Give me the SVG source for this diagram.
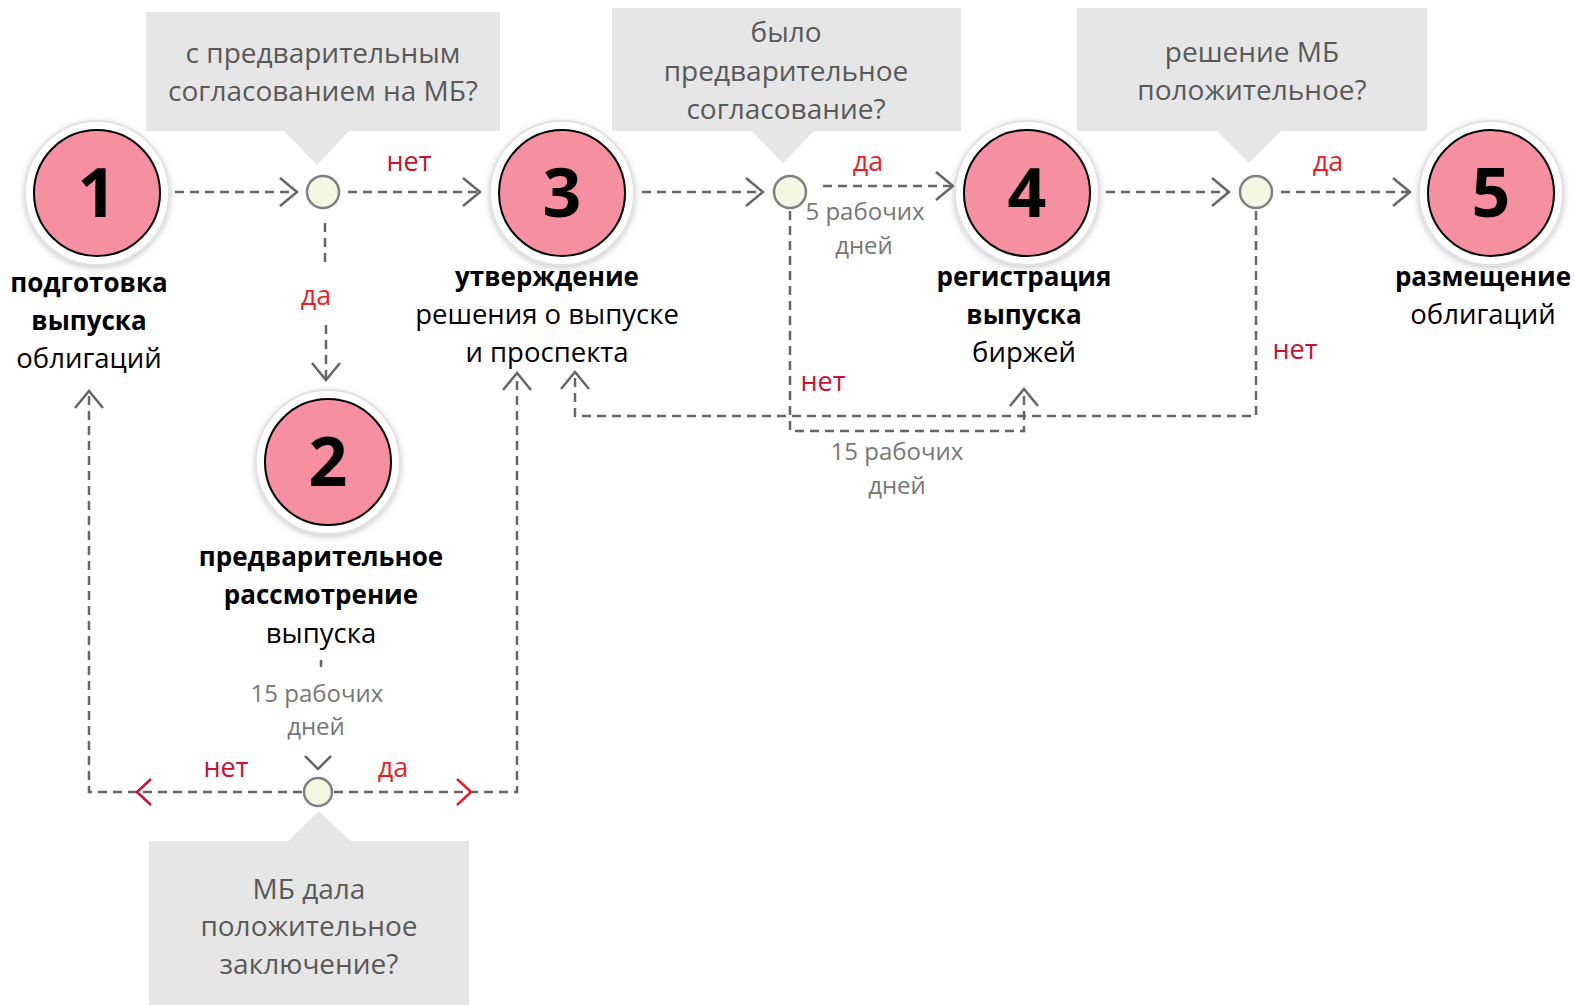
<svg xmlns="http://www.w3.org/2000/svg" width="1575" height="1005" viewBox="0 0 1575 1005">
<style>
text{font-family:"Open Sans","Liberation Sans",sans-serif;text-anchor:middle}
.box{fill:#e6e6e6}
.bt{font-size:28px;fill:#595959}
.num{font-size:68px;font-weight:bold;fill:#000}
.lb{font-size:26px;font-weight:bold;fill:#000}
.lr{font-size:27.5px;fill:#000}
.gr{font-size:24px;fill:#777}
.no{font-size:27px;fill:#cc1133}
.yes{font-size:27px;fill:#ee1c25}
.halo{fill:#fff;stroke:#e2e2e2;stroke-width:2}
.pink{fill:#f68fa0;stroke:#000;stroke-width:2}
.sc{fill:#f3f8e2;stroke:#808080;stroke-width:2.5}
.dl{fill:none;stroke:#666;stroke-width:2.5;stroke-dasharray:9 6}
.chev{fill:none;stroke:#666;stroke-width:2.5}
.rch{fill:none;stroke-width:2.5}
</style>
<defs>
<filter id="sh" x="-30%" y="-30%" width="160%" height="160%">
<feDropShadow dx="0" dy="2" stdDeviation="3" flood-color="#888" flood-opacity="0.45"/>
</filter>
<marker id="arr" markerUnits="userSpaceOnUse" markerWidth="40" markerHeight="40" refX="0" refY="0" viewBox="-20 -20 40 40" orient="auto" overflow="visible">
<path d="M-17,-14 L0,0 L-17,14" fill="none" stroke="#666" stroke-width="2.5"/>
</marker>
</defs>

<g id="connectors">
<path class="dl" d="M175,192 H297" marker-end="url(#arr)"/>
<path class="dl" d="M348,192 H480" marker-end="url(#arr)"/>
<path class="dl" d="M325,223 V266"/>
<path class="dl" d="M326,325 V380" marker-end="url(#arr)"/>
<path class="dl" d="M642,192 H763" marker-end="url(#arr)"/>
<path class="dl" d="M823,186 H953" marker-end="url(#arr)"/>
<path class="dl" d="M1106,192 H1229" marker-end="url(#arr)"/>
<path class="dl" d="M1281,192 H1410" marker-end="url(#arr)"/>
<path class="dl" d="M790,211 V431 H1024 V389" marker-end="url(#arr)"/>
<path class="dl" d="M1256,211 V416 H575 V372" marker-end="url(#arr)"/>
<path class="dl" d="M321,660 V667"/>
<path class="chev" d="M305,756 L318,769 L331,756"/>
<path class="dl" d="M302,792 H89 V391" marker-end="url(#arr)"/>
<path class="dl" d="M334,792 H517 V373" marker-end="url(#arr)"/>
<path class="rch" stroke="#cc1133" d="M151,779 L137,792 L151,805"/>
<path class="rch" stroke="#ee1c25" d="M457,779 L471,792 L457,805"/>
<text class="no" x="409" y="171">нет</text>
<text class="yes" x="316" y="305">да</text>
<text class="yes" x="868" y="171">да</text>
<text class="gr" x="865" y="220">5 рабочих</text>
<text class="gr" x="864" y="254">дней</text>
<text class="no" x="823" y="391">нет</text>
<text class="gr" x="897" y="460">15 рабочих</text>
<text class="gr" x="897" y="494">дней</text>
<text class="yes" x="1328" y="171">да</text>
<text class="no" x="1295" y="359">нет</text>
<text class="gr" x="317" y="702">15 рабочих</text>
<text class="gr" x="316" y="735">дней</text>
<text class="no" x="226" y="777">нет</text>
<text class="yes" x="393" y="777">да</text>
</g>

<g id="q1">
<path class="box" d="M146,12 H500 V131 H349 L317,165 L284,131 H146 Z"/>
<text class="bt" x="323" y="63">с предварительным</text>
<text class="bt" x="323" y="101">согласованием на МБ?</text>
</g>
<g id="q2">
<path class="box" d="M612,8 H961 V131 H814 L783,163 L752,131 H612 Z"/>
<text class="bt" x="786" y="42">было</text>
<text class="bt" x="786" y="81">предварительное</text>
<text class="bt" x="786" y="119">согласование?</text>
</g>
<g id="q3">
<path class="box" d="M1077,8 H1427 V131 H1281 L1249,163 L1217,131 H1077 Z"/>
<text class="bt" x="1252" y="62">решение МБ</text>
<text class="bt" x="1252" y="100">положительное?</text>
</g>
<g id="q4">
<path class="box" d="M149,841 H469 V1005 H149 Z M287,842 L319,811 L352,842 Z"/>
<text class="bt" x="309" y="899">МБ дала</text>
<text class="bt" x="309" y="936">положительное</text>
<text class="bt" x="309" y="974">заключение?</text>
</g>

<g id="d1"><circle class="sc" cx="323" cy="192" r="16"/></g>
<g id="d2"><circle class="sc" cx="790" cy="192" r="16"/></g>
<g id="d3"><circle class="sc" cx="1256" cy="192" r="16"/></g>
<g id="d4"><circle class="sc" cx="318" cy="792" r="14"/></g>

<g id="n1">
<circle class="halo" cx="97" cy="193" r="72" filter="url(#sh)"/>
<circle class="pink" cx="97" cy="193" r="63"/>
<text class="num" x="97" y="217">1</text>
<text class="lb" x="89" y="292">подготовка</text>
<text class="lb" x="89" y="330">выпуска</text>
<text class="lr" x="89" y="368">облигаций</text>
</g>
<g id="n2">
<circle class="halo" cx="328" cy="462" r="72" filter="url(#sh)"/>
<circle class="pink" cx="328" cy="462" r="63"/>
<text class="num" x="328" y="486">2</text>
<text class="lb" x="321" y="566">предварительное</text>
<text class="lb" x="321" y="604">рассмотрение</text>
<text class="lr" x="321" y="643">выпуска</text>
</g>
<g id="n3">
<circle class="halo" cx="562" cy="193" r="72" filter="url(#sh)"/>
<circle class="pink" cx="562" cy="193" r="63"/>
<text class="num" x="562" y="217">3</text>
<text class="lb" x="547" y="286">утверждение</text>
<text class="lr" x="547" y="324">решения о выпуске</text>
<text class="lr" x="547" y="362">и проспекта</text>
</g>
<g id="n4">
<circle class="halo" cx="1027" cy="193" r="72" filter="url(#sh)"/>
<circle class="pink" cx="1027" cy="193" r="63"/>
<text class="num" x="1027" y="217">4</text>
<text class="lb" x="1024" y="286">регистрация</text>
<text class="lb" x="1024" y="324">выпуска</text>
<text class="lr" x="1024" y="362">биржей</text>
</g>
<g id="n5">
<circle class="halo" cx="1491" cy="193" r="72" filter="url(#sh)"/>
<circle class="pink" cx="1491" cy="193" r="63"/>
<text class="num" x="1491" y="217">5</text>
<text class="lb" x="1483" y="286">размещение</text>
<text class="lr" x="1483" y="324">облигаций</text>
</g>
</svg>
